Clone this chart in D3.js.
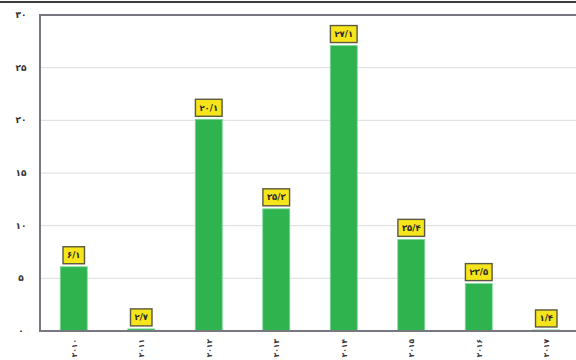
<!DOCTYPE html>
<html>
<head>
<meta charset="utf-8">
<script src="https://cdn.jsdelivr.net/npm/d3@7"></script>
<style>
  html, body { margin: 0; padding: 0; background: #fff; }
  svg { display: block; font-family: "DejaVu Sans", sans-serif; }
</style>
</head>
<body>
<svg id="chart" width="576" height="360"></svg>
<script>
// Years on the x axis (Persian digits)
const years = ["۲۰۱۰", "۲۰۱۱", "۲۰۱۲", "۲۰۱۳", "۲۰۱۴", "۲۰۱۵", "۲۰۱۶", "۲۰۱۷"];
// Bar heights
const values = [6.1, 0.2, 20.1, 11.6, 27.1, 8.7, 4.5, 0.1];
// Text shown in the yellow boxes above each bar
const boxLabels = ["۶/۱", "۲/۷", "۲۰/۱", "۳۵/۳", "۲۷/۱", "۳۵/۴", "۲۳/۵", "۱/۴"];
// Y axis ticks and their labels
const yTicks = [0, 5, 10, 15, 20, 25, 30];
const yTickLabels = ["۰", "۵", "۱۰", "۱۵", "۲۰", "۲۵", "۳۰"];

const svg = d3.select("#chart");
const plotLeft = 40, plotRight = 580, plotTop = 15, plotBottom = 331;

const x = d3.scaleBand().domain(years).range([plotLeft, plotRight])
  .paddingInner(0.6).paddingOuter(0.3);
const y = d3.scaleLinear().domain([0, 30]).range([plotBottom, plotTop]);

// page rule across the top
svg.append("line").attr("x1", 0).attr("x2", 576).attr("y1", 2).attr("y2", 2)
  .attr("stroke", "#3c3c3c").attr("stroke-width", 2);

// horizontal gridlines
svg.append("g").selectAll("line").data(yTicks.filter(d => d > 0 && d < 30)).join("line")
  .attr("x1", plotLeft).attr("x2", 576)
  .attr("y1", d => y(d)).attr("y2", d => y(d))
  .attr("stroke", "#dcdcdc").attr("stroke-width", 1);

// y tick labels
svg.append("g").selectAll("text").data(yTicks).join("text")
  .attr("x", 21).attr("y", d => y(d)).attr("dy", "0.35em")
  .attr("text-anchor", "middle").attr("font-size", 9).attr("font-weight", "bold")
  .attr("fill", "#333")
  .text((d, i) => yTickLabels[i]);

// bars
svg.append("g").selectAll("rect").data(values).join("rect")
  .attr("x", (d, i) => x(years[i]))
  .attr("width", x.bandwidth())
  .attr("y", d => y(d))
  .attr("height", d => plotBottom - y(d))
  .attr("fill", "#2fb34e")
  .attr("stroke", "#7fd89a").attr("stroke-width", 0.8);

// plot frame: top, left and bottom edges
const frame = svg.append("g").attr("fill", "none").attr("stroke", "#77777f").attr("stroke-width", 2);
frame.append("path").attr("d", `M576,${plotTop}H${plotLeft}V${plotBottom}H576`);

// value boxes above each bar
const boxes = svg.append("g").selectAll("g").data(values).join("g")
  .attr("transform", (d, i) => `translate(${x(years[i]) + x.bandwidth() / 2},${y(d) - 3})`);
boxes.each(function (d, i) {
  const g = d3.select(this);
  const rect = g.append("rect");
  const t = g.append("text")
    .attr("x", 0).attr("y", -8.5).attr("dy", "0.35em")
    .attr("text-anchor", "middle").attr("font-size", 8.5).attr("font-weight", "bold")
    .attr("fill", "#2a2a2a")
    .text(boxLabels[i]);
  const w = t.node().getComputedTextLength() + 8;
  rect.attr("x", -w / 2).attr("y", -17).attr("width", w).attr("height", 17)
    .attr("fill", "#f6e51a").attr("stroke", "#5b5840").attr("stroke-width", 1.4);
});

// rotated year labels
svg.append("g").selectAll("text").data(years).join("text")
  .attr("transform", d => `translate(${x(d) + x.bandwidth() / 2 + 3},339) rotate(-90)`)
  .attr("text-anchor", "end").attr("font-size", 7.5).attr("font-weight", "bold")
  .attr("fill", "#333")
  .text(d => d);
</script>
</body>
</html>
